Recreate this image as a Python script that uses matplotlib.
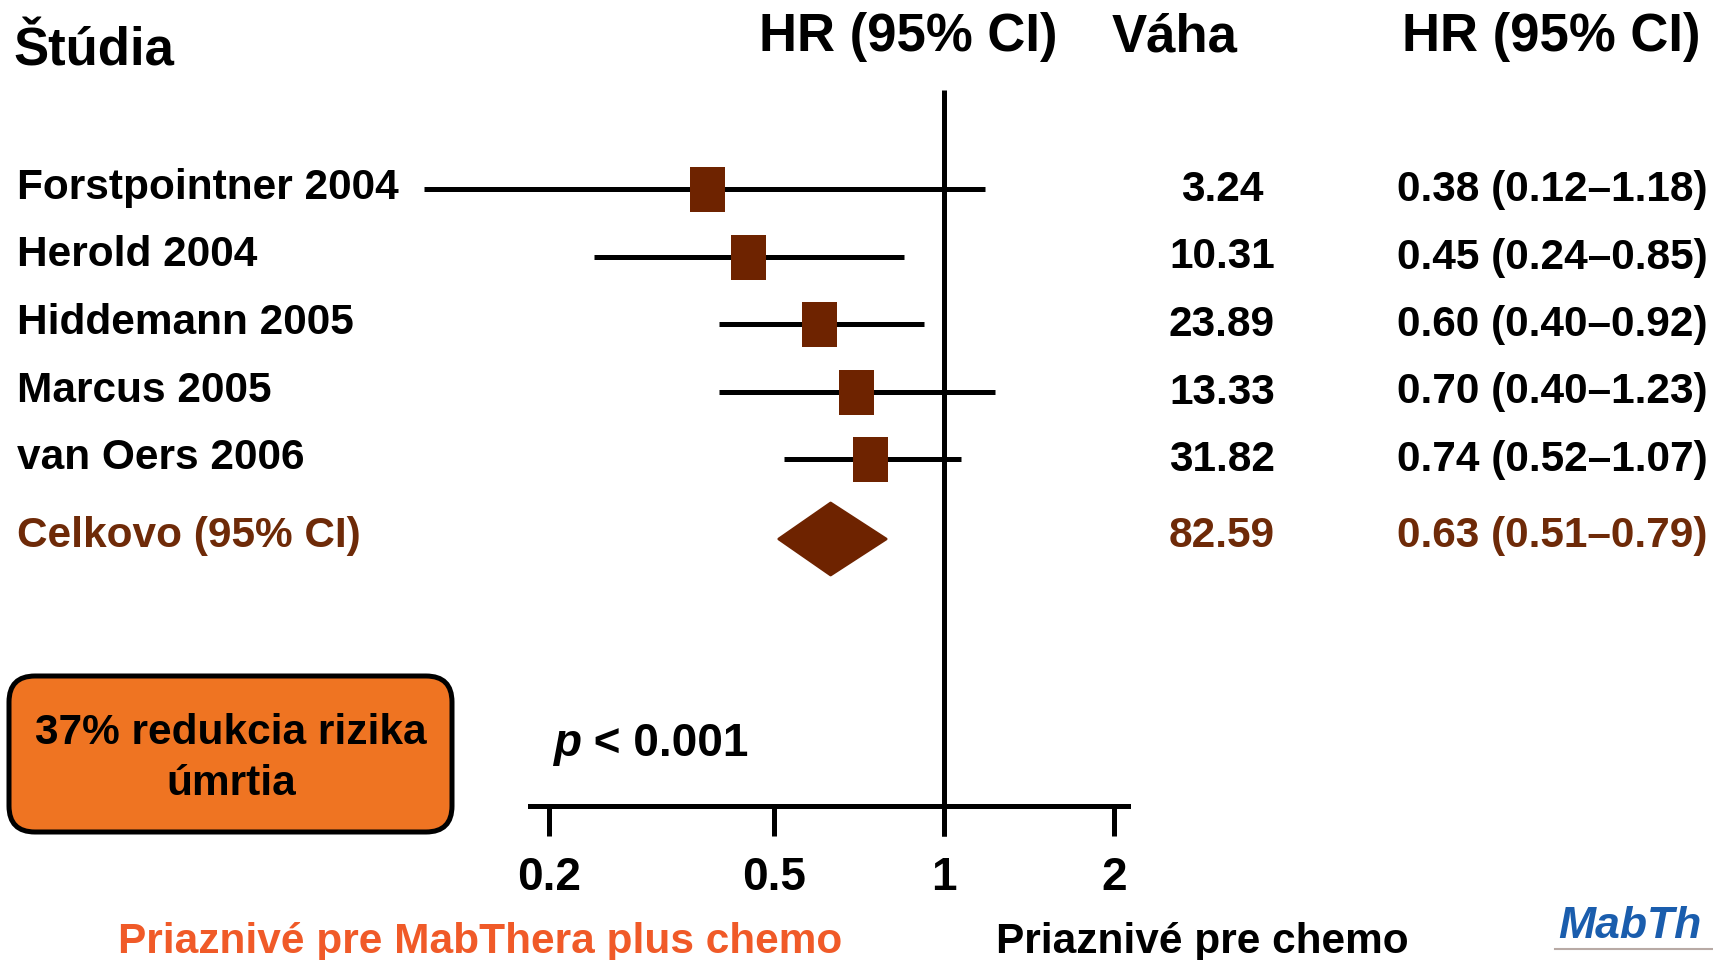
import matplotlib
matplotlib.use('Agg')
import matplotlib.pyplot as plt
import numpy as np
from matplotlib.patches import FancyBboxPatch, Polygon
from matplotlib.ticker import NullLocator

# ---------------- data ----------------
studies = ['Forstpointner 2004', 'Herold 2004', 'Hiddemann 2005', 'Marcus 2005', 'van Oers 2006']
hr = [0.38, 0.45, 0.60, 0.70, 0.74]
ci_low = [0.12, 0.24, 0.40, 0.40, 0.52]
ci_high = [1.18, 0.85, 0.92, 1.23, 1.07]
weights = ['3.24', '10.31', '23.89', '13.33', '31.82']

pooled_label = 'Celkovo (95% CI)'
pooled_hr = 0.63
pooled_low = 0.51
pooled_high = 0.79
pooled_weight = '82.59'

x_ticks = [0.2, 0.5, 1, 2]
x_tick_labels = ['0.2', '0.5', '1', '2']

header_study = 'Štúdia'
header_hr = 'HR (95% CI)'
header_weight = 'Váha'
box_text = '37% redukcia rizika\númrtia'
favours_left = 'Priaznivé pre MabThera plus chemo'
favours_right = 'Priaznivé pre chemo'
logo_text = 'MabTh'

# ---------------- style ----------------
plt.rcParams['font.family'] = ['Liberation Sans', 'DejaVu Sans']
plt.rcParams['font.weight'] = 'bold'
BROWN = '#6E2300'
BROWN_TXT = '#6E2A08'
ORANGE_BOX = '#EF7422'
ORANGE_TXT = '#F05A28'
BLUE = '#1A5DAD'
LW = 3.6

W, H = 1713, 960
fig = plt.figure(figsize=(W / 100, H / 100), dpi=100)
fig.patch.set_facecolor('white')

# main forest axes: x log scale (1 -> px 944, 565 px per decade), y in pixels from top
X1 = 944.0
PPD = 565.0
def xval(px):
    return 10 ** ((px - X1) / PPD)

ax = fig.add_axes([0, 0, 1, 1])
ax.set_xscale('log')
ax.set_xlim(xval(0), xval(W))
ax.set_ylim(H, 0)
ax.set_facecolor('white')
for s in ['top', 'left', 'right']:
    ax.spines[s].set_visible(False)
ax.spines['bottom'].set_position(('data', 806))
ax.spines['bottom'].set_bounds(xval(530), xval(1128))
ax.spines['bottom'].set_linewidth(LW)
ax.set_yticks([])
ax.set_xticks(x_ticks)
ax.set_xticklabels(x_tick_labels)
ax.xaxis.set_minor_locator(NullLocator())
ax.tick_params(axis='x', direction='out', length=21.6, width=LW, pad=14.5,
               labelsize=33, colors='black')
for lab in ax.get_xticklabels():
    lab.set_fontweight('bold')

row_y = 189 + 67.5 * np.arange(len(studies))
pooled_y = 539

# line of no effect
ax.vlines(1, 90, 836, color='black', lw=LW, zorder=2)
# confidence intervals
ax.hlines(row_y, ci_low, ci_high, color='black', lw=LW, zorder=3)
# point estimates (rectangular markers 35x45 px)
rect = [(-17.5, -22.5), (17.5, -22.5), (17.5, 22.5), (-17.5, 22.5), (-17.5, -22.5)]
ax.plot(hr, row_y, ls='none', marker=rect, ms=32.4, color=BROWN, mew=0, zorder=4)
# pooled diamond
dh = 36
diamond = Polygon([(pooled_low, pooled_y), (pooled_hr, pooled_y - dh),
                   (pooled_high, pooled_y), (pooled_hr, pooled_y + dh)],
                  closed=True, facecolor=BROWN, edgecolor=BROWN, lw=2,
                  joinstyle='round', zorder=4)
ax.add_patch(diamond)

# ---------------- overlay for text (pixel coords from top) ----------------
ov = fig.add_axes([0, 0, 1, 1])
ov.set_xlim(0, W)
ov.set_ylim(H, 0)
ov.set_facecolor('none')
ov.axis('off')

FS = 30.5
ov.text(13, 66, header_study, fontsize=38, ha='left', va='baseline')
ov.text(759, 51, header_hr, fontsize=38, ha='left', va='baseline')
ov.text(1112, 51, header_weight, fontsize=38, ha='left', va='baseline')
ov.text(1402, 51, header_hr, fontsize=38, ha='left', va='baseline')

for i, name in enumerate(studies):
    y = row_y[i] + 10
    ov.text(17, y, name, fontsize=FS, ha='left', va='baseline')
    ov.text(1222, y + 2, weights[i], fontsize=FS, ha='center', va='baseline')
    ov.text(1397, y + 2, f'{hr[i]:.2f} ({ci_low[i]:.2f}–{ci_high[i]:.2f})',
            fontsize=FS, ha='left', va='baseline')

ov.text(17, pooled_y + 8, pooled_label, fontsize=FS, ha='left', va='baseline', color=BROWN_TXT)
ov.text(1222, pooled_y + 8, pooled_weight, fontsize=FS, ha='center', va='baseline', color=BROWN_TXT)
ov.text(1397, pooled_y + 8, f'{pooled_hr:.2f} ({pooled_low:.2f}–{pooled_high:.2f})',
        fontsize=FS, ha='left', va='baseline', color=BROWN_TXT)

# orange box
box = FancyBboxPatch((9, 676), 443, 156, boxstyle='round,pad=0,rounding_size=26',
                     facecolor=ORANGE_BOX, edgecolor='black', lw=LW, zorder=5)
ov.add_patch(box)
lines = box_text.split('\n')
ov.text(231, 744, lines[0], fontsize=FS, ha='center', va='baseline', zorder=6)
ov.text(231, 795, lines[1], fontsize=FS, ha='center', va='baseline', zorder=6)

# p-value
tp = ov.text(553, 756, 'p', fontsize=33, style='italic', ha='left', va='baseline')
ov.annotate(' < 0.001', xy=(1, 0), xycoords=tp, fontsize=33, ha='left', va='bottom')

# favours labels
ov.text(118, 953, favours_left, fontsize=FS, ha='left', va='baseline', color=ORANGE_TXT)
ov.text(996, 953, favours_right, fontsize=FS, ha='left', va='baseline', color='black')

# logo at the bottom-right corner
ov.text(1558, 938, logo_text, fontsize=32, style='italic', ha='left', va='baseline',
        color=BLUE)
ov.plot([1555, W], [949, 949], color='#B8AAA5', lw=1.5)

fig.savefig('out.png', dpi=100, facecolor='white')
